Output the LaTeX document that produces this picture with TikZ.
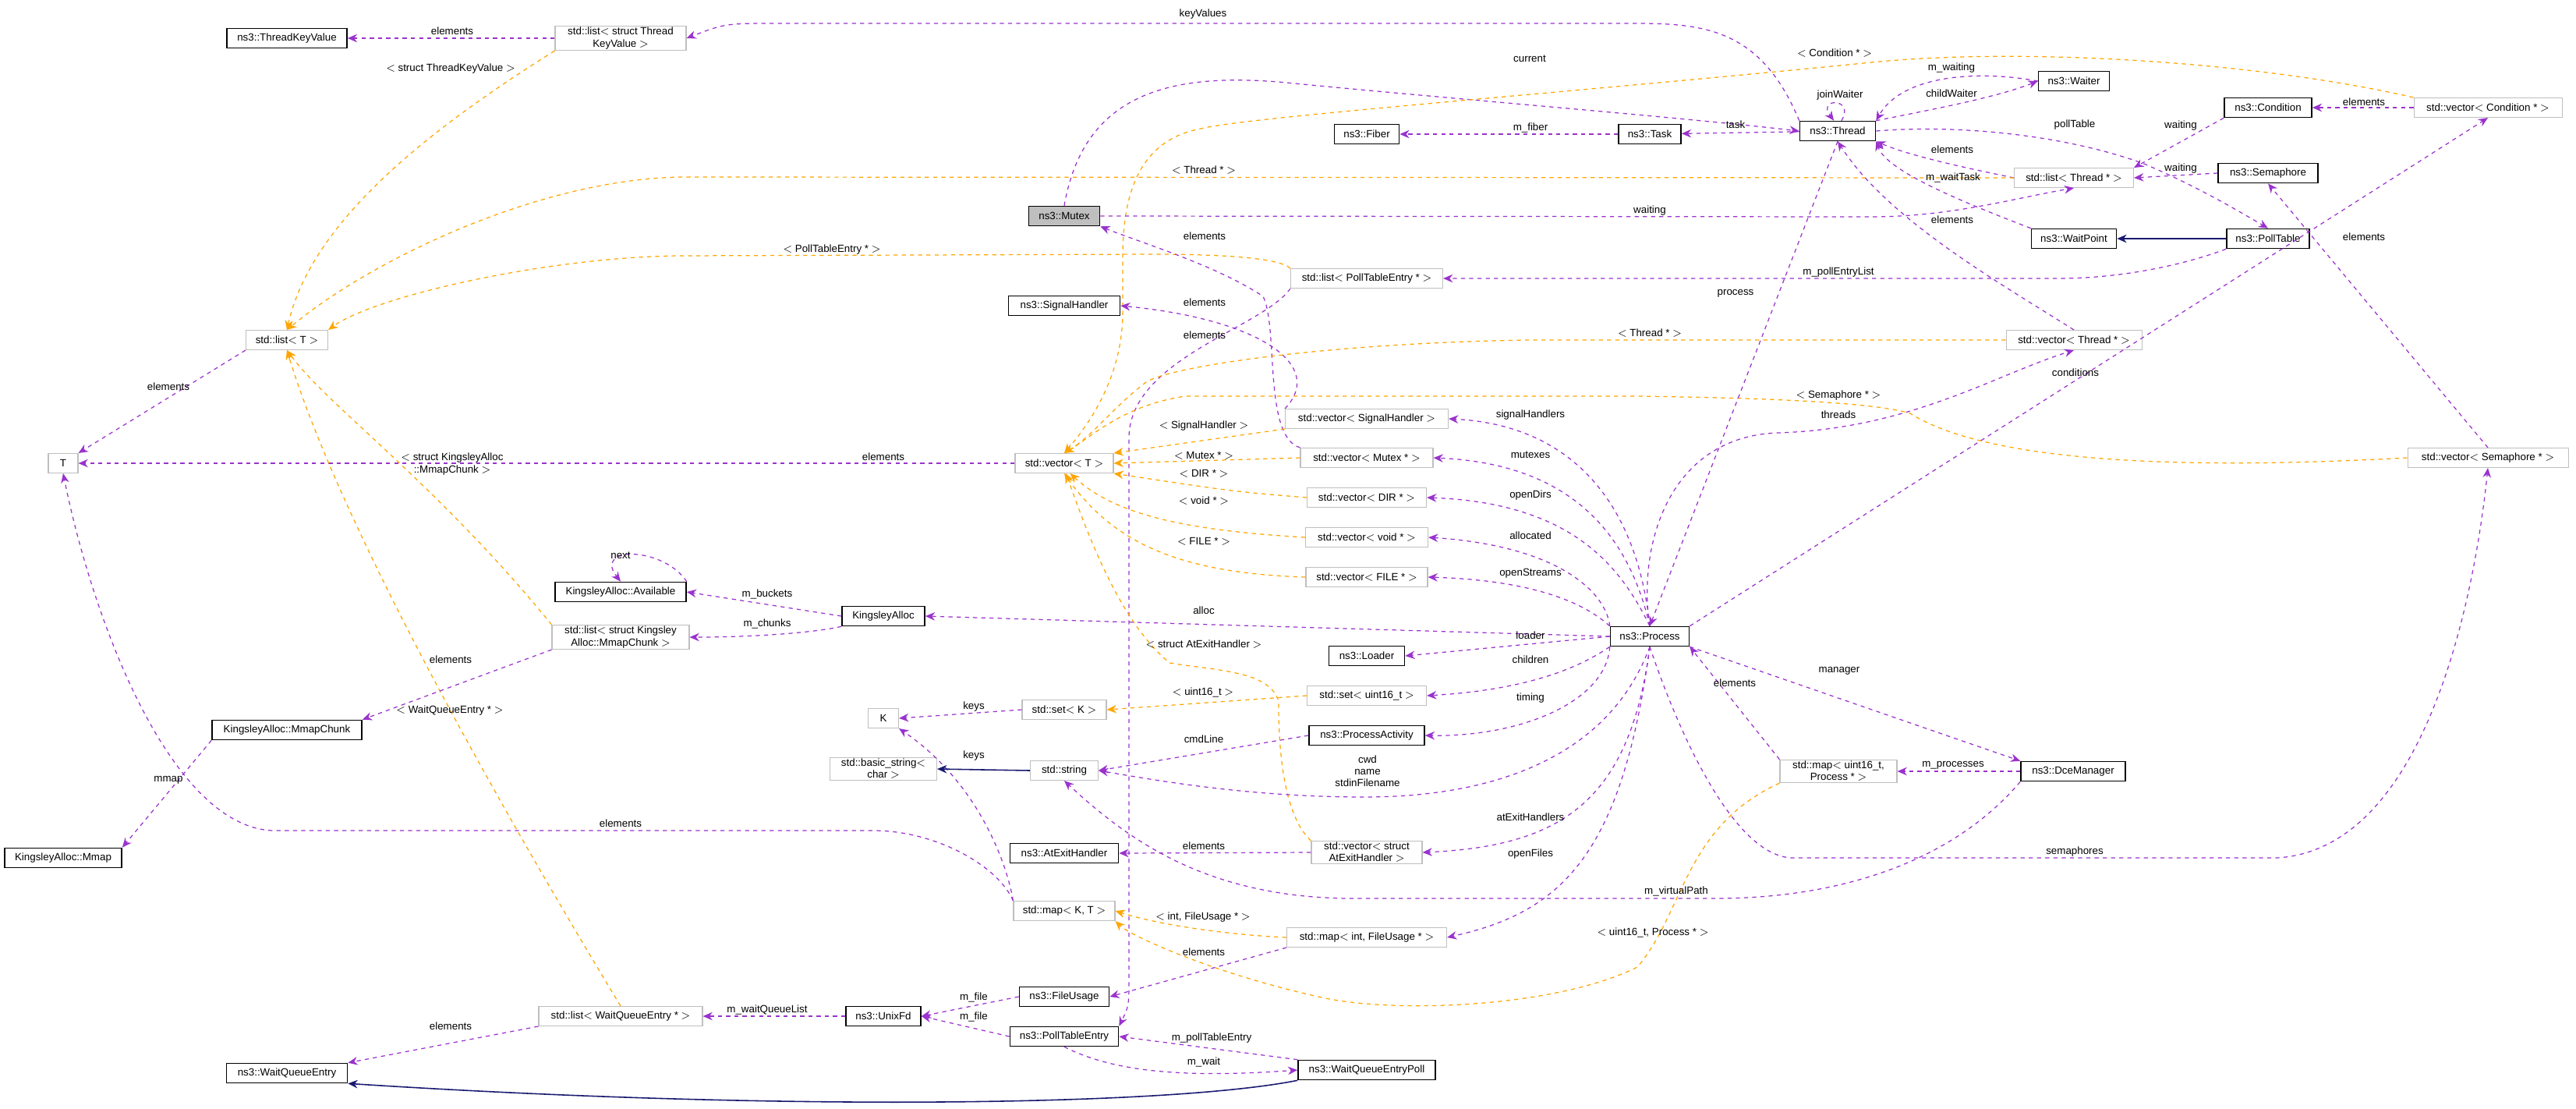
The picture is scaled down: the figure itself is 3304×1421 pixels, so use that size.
\documentclass[tikz,border=0pt]{standalone}
\usepackage{fontspec}
\setmainfont{Liberation Sans}
\usetikzlibrary{arrows.meta,positioning}

\definecolor{usecol}{HTML}{9A32CD}
\definecolor{tplcol}{HTML}{FFA500}
\definecolor{inhcol}{HTML}{191970}

\tikzset{
  every node/.style={font=\fontsize{7.6}{8.6}\selectfont},
  cls/.style={draw=black, line width=0.9pt, fill=white, minimum height=0.5cm, inner xsep=2pt, inner ysep=1pt},
  tmpl/.style={draw=black!25, line width=0.6pt, fill=white, minimum height=0.5cm, inner xsep=2pt, inner ysep=1pt, align=center},
  sel/.style={cls, fill=black!25},
  bw/.style={minimum width=#1*0.02cm},
  lbl/.style={inner sep=0.5pt, align=center},
  use/.style={draw=usecol, dashed, dash pattern=on 3pt off 3pt, line width=0.7pt, -{Stealth[length=7pt,width=6pt]}},
  tpl/.style={draw=tplcol, dashed, dash pattern=on 3pt off 3pt, line width=0.7pt, -{Stealth[length=7pt,width=6pt]}},
  inh/.style={draw=inhcol, line width=0.9pt, -{Stealth[length=7pt,width=6pt]}},
}

\begin{document}
\begin{tikzpicture}[x=0.02cm, y=-0.02cm]
%
\useasboundingbox (0,0) rectangle (3304,1421);
%
% classes
\node[cls, bw=154] (tkv) at (368,49) {ns3::ThreadKeyValue};
\node[tmpl, bw=168] (listTKV) at (796,49) {std::list$<$ struct Thread\\KeyValue $>$};
\node[tmpl, bw=105] (listT) at (368,436) {std::list$<$ T $>$};
\node[tmpl, bw=38] (T) at (81,594) {T};
\node[cls, bw=83] (fiber) at (1753,172) {ns3::Fiber};
\node[cls, bw=80] (task) at (2116,172) {ns3::Task};
\node[sel, bw=91] (mutex) at (1365,277) {ns3::Mutex};
\node[tmpl, bw=195] (listPTE) at (1753,357) {std::list$<$ PollTableEntry * $>$};
\node[cls, bw=143] (sighand) at (1365,392) {ns3::SignalHandler};
\node[tmpl, bw=209] (vecSH) at (1753,537) {std::vector$<$ SignalHandler $>$};
\node[tmpl, bw=126] (vecT) at (1365,594) {std::vector$<$ T $>$};
\node[tmpl, bw=170] (vecMutex) at (1753,587) {std::vector$<$ Mutex * $>$};
\node[tmpl, bw=153] (vecDIR) at (1753,638) {std::vector$<$ DIR * $>$};
\node[tmpl, bw=157] (vecVoid) at (1753,689) {std::vector$<$ void * $>$};
\node[tmpl, bw=156] (vecFILE) at (1753,740) {std::vector$<$ FILE * $>$};
\node[cls, bw=91] (waiter) at (2660,104) {ns3::Waiter};
\node[cls, bw=97] (thread) at (2357,168) {ns3::Thread};
\node[cls, bw=112] (cond) at (2909,138) {ns3::Condition};
\node[tmpl, bw=190] (vecCond) at (3191,138) {std::vector$<$ Condition * $>$};
\node[tmpl, bw=153] (listThread) at (2660,228) {std::list$<$ Thread * $>$};
\node[cls, bw=128] (sema) at (2909,222) {ns3::Semaphore};
\node[cls, bw=109] (waitpt) at (2660,306) {ns3::WaitPoint};
\node[cls, bw=106] (polltab) at (2909,306) {ns3::PollTable};
\node[tmpl, bw=174] (vecThread) at (2660,436) {std::vector$<$ Thread * $>$};
\node[tmpl, bw=206] (vecSema) at (3191,587) {std::vector$<$ Semaphore * $>$};
\node[cls, bw=168] (avail) at (796,759) {KingsleyAlloc::Available};
\node[tmpl, bw=176] (listKA) at (796,817) {std::list$<$ struct Kingsley\\Alloc::MmapChunk $>$};
\node[cls, bw=192] (chunk) at (368,936) {KingsleyAlloc::MmapChunk};
\node[cls, bw=150] (mmap) at (81,1100) {KingsleyAlloc::Mmap};
\node[tmpl, bw=210] (listWQE) at (796,1303) {std::list$<$ WaitQueueEntry * $>$};
\node[cls, bw=155] (wqe) at (368,1376) {ns3::WaitQueueEntry};
\node[cls, bw=106] (kalloc) at (1133,790) {KingsleyAlloc};
\node[cls, bw=101] (process) at (2116,816) {ns3::Process};
\node[cls, bw=97] (loader) at (1753,841) {ns3::Loader};
\node[tmpl, bw=153] (setU16) at (1753,892) {std::set$<$ uint16\_t $>$};
\node[tmpl, bw=108] (setK) at (1365,910) {std::set$<$ K $>$};
\node[tmpl, bw=39] (K) at (1133,921) {K};
\node[cls, bw=148] (pact) at (1753,943) {ns3::ProcessActivity};
\node[tmpl, bw=87] (string) at (1365,988) {std::string};
\node[tmpl, bw=137] (bstring) at (1133,986) {std::basic\_string$<$\\char $>$};
\node[cls, bw=139] (atexit) at (1365,1094) {ns3::AtExitHandler};
\node[tmpl, bw=142] (vecAtExit) at (1753,1093) {std::vector$<$ struct\\AtExitHandler $>$};
\node[tmpl, bw=130] (mapKT) at (1365,1168) {std::map$<$ K, T $>$};
\node[tmpl, bw=205] (mapFU) at (1753,1202) {std::map$<$ int, FileUsage * $>$};
\node[cls, bw=115] (fusage) at (1365,1278) {ns3::FileUsage};
\node[cls, bw=96] (unixfd) at (1133,1303) {ns3::UnixFd};
\node[cls, bw=139] (pte) at (1365,1329) {ns3::PollTableEntry};
\node[cls, bw=176] (wqep) at (1753,1372) {ns3::WaitQueueEntryPoll};
\node[tmpl, bw=150] (mapUP) at (2358,989) {std::map$<$ uint16\_t,\\Process * $>$};
\node[cls, bw=134] (dce) at (2659,989) {ns3::DceManager};
%
% upper part
\draw[use] (listTKV) -- (tkv);
\node[lbl] (l1) at (580,40) {elements};
\draw[tpl] (listTKV.south west) .. controls (560,160) and (400,280) .. (listT.north);
\node[lbl] (l2) at (578,88) {$<$ struct ThreadKeyValue $>$};
\draw[use] (thread.north west) .. controls (2260,40) and (2190,30) .. (2100,30) -- (1000,30) .. controls (930,30) .. (listTKV.east);
\node[lbl] (l3) at (1543,18) {keyValues};
\draw[use] (mutex.north) .. controls (1390,120) and (1500,90) .. (1660,107) .. controls (1900,130) and (2150,150) .. (thread.west);
\node[lbl] (l4) at (1962,75) {current};
\draw[tpl] (vecCond.north west) .. controls (2900,80) and (2600,60) .. (2400,80) .. controls (2000,120) and (1600,150) .. (1540,165) .. controls (1460,180) and (1440,250) .. (1440,330) -- (1440,400) .. controls (1440,480) and (1400,540) .. (vecT.north);
\node[lbl] (l5) at (2353,68) {$<$ Condition * $>$};
\draw[use] (task) -- (fiber);
\node[lbl] (l6) at (1963,164) {m\_fiber};
\draw[use] (thread) -- (task);
\node[lbl] (l7) at (2226,160) {task};
\draw[use] (thread.70) .. controls (2380,125) and (2330,125) .. (thread.110);
\node[lbl] (l8) at (2360,122) {joinWaiter};
\draw[use] (waiter.west) .. controls (2540,90) and (2440,95) .. (thread.north east);
\node[lbl] (l9) at (2503,87) {m\_waiting};
\draw[use] (thread.north east) .. controls (2480,140) and (2560,125) .. (waiter.west);
\node[lbl] (l10) at (2503,120) {childWaiter};
\draw[use] (thread.east) .. controls (2500,160) and (2640,170) .. (2750,210) .. controls (2820,240) and (2870,270) .. (polltab.north);
\node[lbl] (l11) at (2661,160) {pollTable};
\draw[use] (listThread.west) .. controls (2520,215) and (2450,200) .. (thread.south east);
\node[lbl] (l12) at (2504,192) {elements};
\draw[tpl] (listThread.west) -- (880,227) .. controls (700,227) and (480,330) .. (listT.north);
\node[lbl] (l13) at (1544,218) {$<$ Thread * $>$};
\draw[use] (cond.south west) -- (listThread.north east);
\node[lbl] (l14) at (2797,161) {waiting};
\draw[use] (sema.west) -- (listThread.east);
\node[lbl] (l15) at (2797,216) {waiting};
\draw[use] (vecCond.west) -- (cond.east);
\node[lbl] (l16) at (3032,131) {elements};
\draw[use] (mutex.east) -- (2400,278) .. controls (2500,278) and (2580,255) .. (listThread.south);
\node[lbl] (l17) at (2116,270) {waiting};
\draw[use] (waitpt.north west) .. controls (2520,260) and (2420,220) .. (thread.south east);
\node[lbl] (l18) at (2505,228) {m\_waitTask};
\draw[use] (vecThread.north) .. controls (2560,360) and (2420,280) .. (thread.south);
\node[lbl] (l19) at (2504,282) {elements};
\draw[inh] (polltab.west) -- (waitpt.east);
\draw[use] (polltab.south west) .. controls (2800,340) and (2720,357) .. (2640,357) -- (listPTE.east);
\node[lbl] (l20) at (2358,349) {m\_pollEntryList};
\draw[tpl] (listPTE.north west) .. controls (1640,330) and (1560,326) .. (1480,326) -- (870,328) .. controls (700,330) and (480,380) .. (listT.north east);
\node[lbl] (l21) at (1067,320) {$<$ PollTableEntry * $>$};
\draw[use] (listPTE.south west) .. controls (1620,420) and (1450,460) .. (1448,560) -- (1448,1250) .. controls (1448,1290) .. (pte.north east);
\node[lbl] (l22) at (1545,430) {elements};
\draw[use] (vecMutex.north west) .. controls (1620,560) and (1640,420) .. (1620,380) .. controls (1560,340) and (1460,310) .. (mutex.south east);
\node[lbl] (l23) at (1545,303) {elements};
\draw[use] (vecSH.north west) .. controls (1700,470) and (1620,410) .. (sighand.east);
\node[lbl] (l24) at (1545,388) {elements};
% templates of std::vector
\draw[tpl] (vecSH.south west) -- (vecT.north east);
\node[lbl] (l25) at (1544,546) {$<$ SignalHandler $>$};
\draw[tpl] (vecMutex.west) -- (vecT.east);
\node[lbl] (l26) at (1544,584) {$<$ Mutex * $>$};
\draw[tpl] (vecDIR.west) .. controls (1580,630) .. (vecT.south east);
\node[lbl] (l27) at (1544,607) {$<$ DIR * $>$};
\draw[tpl] (vecVoid.west) .. controls (1520,680) and (1430,660) .. (vecT.-60);
\node[lbl] (l28) at (1544,642) {$<$ void * $>$};
\draw[tpl] (vecFILE.west) .. controls (1520,735) and (1430,700) .. (vecT.south);
\node[lbl] (l29) at (1544,694) {$<$ FILE * $>$};
\draw[tpl] (vecThread.west) -- (1960,436) .. controls (1700,440) and (1500,470) .. (1470,490) .. controls (1430,520) and (1400,560) .. (vecT.north);
\node[lbl] (l30) at (2116,427) {$<$ Thread * $>$};
\draw[tpl] (vecSema.west) .. controls (2850,600) and (2560,600) .. (2450,530) .. controls (2400,515) and (2250,510) .. (2100,508) -- (1520,508) .. controls (1440,520) and (1400,560) .. (vecT.north);
\node[lbl] (l31) at (2358,507) {$<$ Semaphore * $>$};
\draw[tpl] (vecAtExit.north west) .. controls (1640,1040) and (1640,930) .. (1640,900) .. controls (1630,860) and (1560,860) .. (1500,850) .. controls (1440,800) and (1400,700) .. (vecT.-80);
\node[lbl] (l32) at (1544,826) {$<$ struct AtExitHandler $>$};
\draw[use] (vecT.west) -- (T.east);
\node[lbl] (l33) at (1133,586) {elements};
\draw[use] (listT.south west) -- (T.north east);
\node[lbl] (l34) at (216,496) {elements};
% left part
\draw[tpl] (listKA.north west) .. controls (560,620) and (420,520) .. (listT.south);
\node[lbl] (l35) at (580,595) {$<$ struct KingsleyAlloc\\::MmapChunk $>$};
\draw[tpl] (listWQE.north) .. controls (560,900) and (420,620) .. (listT.south);
\node[lbl] (l36) at (577,911) {$<$ WaitQueueEntry * $>$};
\draw[use] (avail.north east) .. controls (850,700) and (760,700) .. (avail.north);
\node[lbl] (l37) at (796,712) {next};
\draw[use] (kalloc.west) -- (avail.east);
\node[lbl] (l38) at (984,762) {m\_buckets};
\draw[use] (kalloc.south west) .. controls (1040,812) and (960,817) .. (listKA.east);
\node[lbl] (l39) at (984,800) {m\_chunks};
\draw[use] (listKA.south west) -- (chunk.north east);
\node[lbl] (l40) at (578,846) {elements};
\draw[use] (chunk.south west) -- (mmap.north east);
\node[lbl] (l41) at (216,1000) {mmap};
\draw[use] (mapKT.north west) .. controls (1280,1110) and (1200,1065) .. (1120,1065) -- (350,1065) .. controls (220,1060) and (120,800) .. (T.south);
\node[lbl] (l42) at (796,1056) {elements};
% ns3::Process
\draw[use] (thread.south) -- (process.north);
\node[lbl] (l43) at (2226,376) {process};
\draw[use] (process.north) .. controls (2100,700) and (2140,560) .. (2280,555) .. controls (2450,550) and (2560,480) .. (vecThread.south);
\node[lbl] (l44) at (2358,532) {threads};
\draw[use] (process.north east) -- (vecCond.south);
\node[lbl] (l45) at (2662,478) {conditions};
\draw[use] (process.south) .. controls (2160,960) and (2230,1100) .. (2300,1100) -- (2920,1100) .. controls (3100,1090) and (3170,800) .. (vecSema.south);
\node[lbl] (l46) at (2661,1092) {semaphores};
\draw[use] (vecSema.north) -- (sema.south);
\node[lbl] (l47) at (3032,304) {elements};
\draw[use] (process.north) .. controls (2100,650) and (2020,545) .. (vecSH.east);
\node[lbl] (l48) at (1963,532) {signalHandlers};
\draw[use] (process.north) .. controls (2090,690) and (2020,595) .. (vecMutex.east);
\node[lbl] (l49) at (1963,583) {mutexes};
\draw[use] (process.north) .. controls (2080,730) and (2020,645) .. (vecDIR.east);
\node[lbl] (l50) at (1963,635) {openDirs};
\draw[use] (process.north west) .. controls (2060,760) and (2000,700) .. (vecVoid.east);
\node[lbl] (l51) at (1963,687) {allocated};
\draw[use] (process.north west) .. controls (2050,790) and (2000,745) .. (vecFILE.east);
\node[lbl] (l52) at (1963,735) {openStreams};
\draw[use] (process.west) -- (kalloc.east);
\node[lbl] (l53) at (1544,783) {alloc};
\draw[use] (process.west) -- (loader.east);
\node[lbl] (l54) at (1963,815) {loader};
\draw[use] (process.south west) .. controls (2020,860) and (1950,885) .. (setU16.east);
\node[lbl] (l55) at (1963,846) {children};
\draw[use] (process.south west) .. controls (2060,900) and (1950,945) .. (pact.east);
\node[lbl] (l56) at (1963,895) {timing};
\draw[use] (process.south) .. controls (2060,980) and (1900,1022) .. (1750,1022) .. controls (1600,1022) and (1480,1000) .. (string.east);
\node[lbl] (l57) at (1754,989) {cwd\\name\\stdinFilename};
\draw[use] (pact.west) -- (string.east);
\node[lbl] (l58) at (1544,948) {cmdLine};
\draw[use] (process.south) .. controls (2090,1030) and (2000,1085) .. (vecAtExit.east);
\node[lbl] (l59) at (1963,1048) {atExitHandlers};
\draw[use] (process.south) .. controls (2080,1100) and (2000,1170) .. (mapFU.east);
\node[lbl] (l60) at (1963,1095) {openFiles};
\draw[use] (process.south east) -- (dce.north west);
\node[lbl] (l61) at (2359,860) {manager};
\draw[use] (dce.west) -- (mapUP.east);
\node[lbl] (l62) at (2505,981) {m\_processes};
\draw[use] (mapUP.north west) -- (process.south east);
\node[lbl] (l63) at (2225,876) {elements};
\draw[tpl] (mapUP.south west) .. controls (2160,1060) and (2160,1170) .. (2100,1240) .. controls (2000,1290) and (1800,1300) .. (1700,1280) .. controls (1560,1250) and (1450,1200) .. (mapKT.south east);
\node[lbl] (l64) at (2120,1196) {$<$ uint16\_t, Process * $>$};
\draw[use] (dce.south west) .. controls (2500,1110) and (2350,1152) .. (2200,1152) -- (1730,1152) .. controls (1550,1150) and (1450,1080) .. (string.south);
\node[lbl] (l65) at (2150,1143) {m\_virtualPath};
\draw[tpl] (setU16.west) -- (setK.east);
\node[lbl] (l66) at (1543,888) {$<$ uint16\_t $>$};
\draw[use] (setK.west) -- (K.east);
\node[lbl] (l67) at (1249,906) {keys};
\draw[use] (mapKT.north west) .. controls (1290,1100) and (1250,1000) .. (K.south east);
\node[lbl] (l68) at (1249,969) {keys};
\draw[inh] (string.west) -- (bstring.east);
\draw[use] (vecAtExit.west) -- (atexit.east);
\node[lbl] (l69) at (1544,1085) {elements};
\draw[tpl] (mapFU.west) .. controls (1600,1200) and (1500,1190) .. (mapKT.east);
\node[lbl] (l70) at (1543,1176) {$<$ int, FileUsage * $>$};
\draw[use] (mapFU.south west) -- (fusage.east);
\node[lbl] (l71) at (1544,1221) {elements};
\draw[use] (fusage.west) -- (unixfd.east);
\node[lbl] (l72) at (1249,1279) {m\_file};
\draw[use] (pte.west) -- (unixfd.east);
\node[lbl] (l73) at (1249,1304) {m\_file};
\draw[use] (unixfd.west) -- (listWQE.east);
\node[lbl] (l74) at (984,1295) {m\_waitQueueList};
\draw[use] (listWQE.south west) -- (wqe.north east);
\node[lbl] (l75) at (578,1316) {elements};
\draw[use] (wqep.north west) -- (pte.east);
\node[lbl] (l76) at (1554,1331) {m\_pollTableEntry};
\draw[use] (pte.south) .. controls (1420,1370) and (1500,1384) .. (wqep.west);
\node[lbl] (l77) at (1544,1362) {m\_wait};
\draw[inh] (wqep.south west) .. controls (1500,1418) and (1000,1425) .. (wqe.south east);
%
\end{tikzpicture}
\end{document}
